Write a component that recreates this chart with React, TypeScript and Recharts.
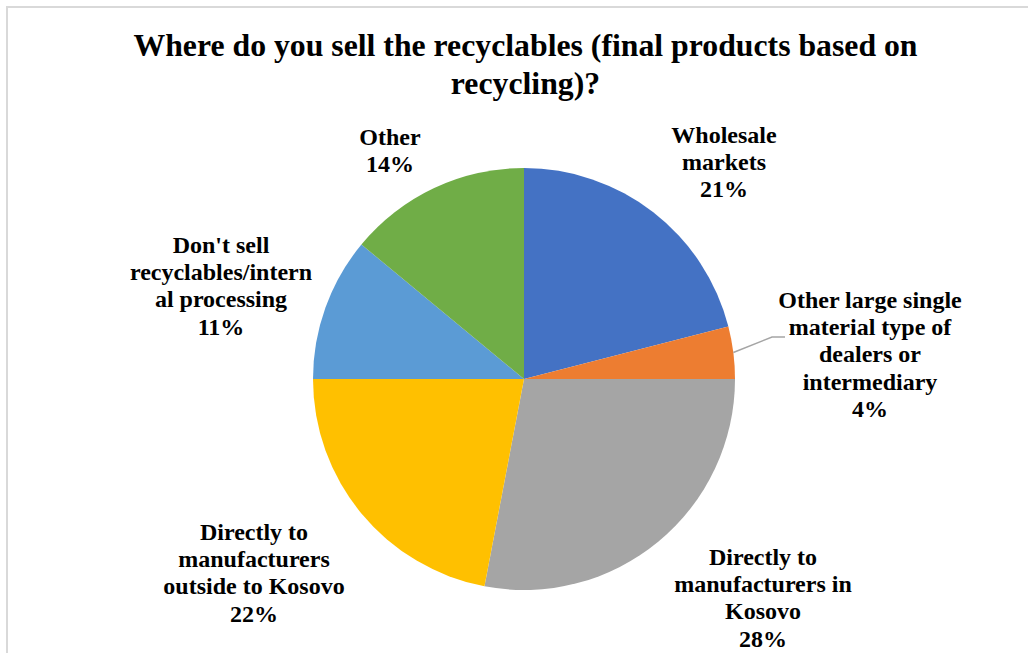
import React from "react";
import { PieChart, Pie, Cell } from "recharts";

const categories = [
  "Wholesale markets",
  "Other large single material type of dealers or intermediary",
  "Directly to manufacturers in Kosovo",
  "Directly to manufacturers outside to Kosovo",
  "Don't sell recyclables/internal processing",
  "Other",
];
const shares = [21, 4, 28, 22, 11, 14];
const labelLines = [
  ["Wholesale", "markets"],
  ["Other large single", "material type of", "dealers or", "intermediary"],
  ["Directly to", "manufacturers in", "Kosovo"],
  ["Directly to", "manufacturers", "outside to Kosovo"],
  ["Don't sell", "recyclables/intern", "al processing"],
  ["Other"],
];
const colors = ["#4472C4", "#ED7D31", "#A5A5A5", "#FFC000", "#5B9BD5", "#70AD47"];

// where Excel put each data label (x = centre, y = first baseline), chart coords
const labelAnchors = [
  { x: 716, y: 135 },
  { x: 862, y: 300 },
  { x: 755, y: 557 },
  { x: 246, y: 532 },
  { x: 213, y: 245 },
  { x: 382, y: 137 },
];

const data = categories.map((name, i) => ({ name, value: shares[i] }));

const LINE = 27.2;
const FONT = "'Liberation Serif', 'Times New Roman', serif";

function renderLabel(props: any) {
  const { index, cx, cy, midAngle, outerRadius, percent } = props;
  const pos = labelAnchors[index];
  const lines = [...labelLines[index], `${Math.round(percent * 100)}%`];
  const rad = (Math.PI / 180) * midAngle;
  let leader = null;
  if (index === 1) {
    const sx = cx + outerRadius * Math.cos(rad);
    const sy = cy - outerRadius * Math.sin(rad);
    leader = (
      <polyline
        points={`${sx},${sy} ${pos.x - 98},${pos.y + 29} ${pos.x - 85},${pos.y + 29}`}
        fill="none"
        stroke="#A5A5A5"
        strokeWidth={1.5}
      />
    );
  }
  return (
    <g key={`lbl-${index}`}>
      {leader}
      <text
        x={pos.x}
        y={pos.y}
        textAnchor="middle"
        fontFamily={FONT}
        fontWeight="bold"
        fontSize={24}
        fill="#000"
      >
        {lines.map((t, i) => (
          <tspan key={i} x={pos.x} dy={i === 0 ? 0 : LINE}>
            {t}
          </tspan>
        ))}
      </text>
    </g>
  );
}

export default function App() {
  return (
    <div
      style={{
        position: "absolute",
        left: 6,
        top: 6,
        width: 1020,
        height: 645,
        borderTop: "2px solid #d9d9d9",
        borderLeft: "2px solid #d9d9d9",
        background: "#fff",
      }}
    >
      <div
        style={{
          position: "absolute",
          left: 15,
          top: 19,
          width: 1005,
          textAlign: "center",
          fontFamily: FONT,
          fontWeight: "bold",
          fontSize: 31.75,
          lineHeight: "38px",
          color: "#000",
        }}
      >
        Where do you sell the recyclables (final products based on
        <br />
        recycling)?
      </div>
      <div style={{ position: "absolute", left: 0, top: 0 }}>
        <PieChart width={1020} height={645} style={{ overflow: "visible" }}>
          <Pie
            data={data}
            dataKey="value"
            nameKey="name"
            cx={511}
            cy={366}
            outerRadius={211}
            startAngle={90}
            endAngle={-270}
            stroke="none"
            label={renderLabel}
            labelLine={false}
            isAnimationActive={false}
          >
            {data.map((entry, index) => (
              <Cell key={`cell-${index}`} fill={colors[index]} />
            ))}
          </Pie>
        </PieChart>
      </div>
    </div>
  );
}
